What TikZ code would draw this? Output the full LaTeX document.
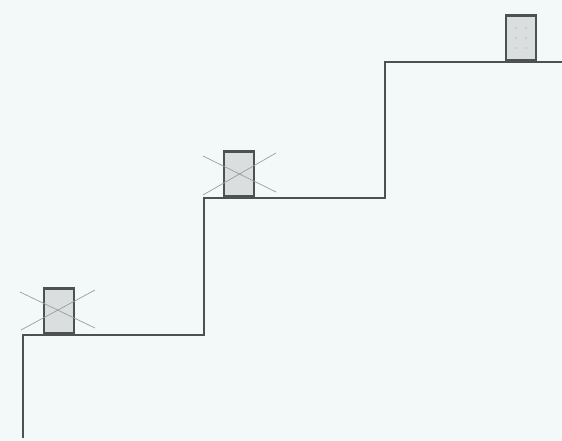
\documentclass[tikz,border=0pt]{standalone}
\usepackage{tikz}
\usetikzlibrary{positioning}
\definecolor{paper}{HTML}{F3F9F9}
\definecolor{stairgray}{HTML}{4E5152}
\definecolor{doorfill}{HTML}{DADEDF}
\definecolor{crossgray}{HTML}{9A9E9F}

\begin{document}
\begin{tikzpicture}[x=1pt,y=-1pt,
stair/.style={draw=stairgray,line width=2.1pt,line join=miter},
door/.style={draw=stairgray,line width=2.6pt,fill=doorfill,minimum width=30pt,minimum height=45pt,inner sep=0pt,anchor=south},
cross/.style={draw=crossgray,line width=0.7pt}]
\fill[paper] (0,0) rectangle (562,441);
\useasboundingbox (0,0) rectangle (562,441);
\coordinate (base) at (23,438);
\coordinate (s1) at (23,335);
\coordinate (s2) at (204,335);
\coordinate (s3) at (204,198);
\coordinate (s4) at (385,198);
\coordinate (s5) at (385,62);
\coordinate (top) at (563,62);
\node[door] (door1) at (59,335) {};
\node[door] (door2) at (239,198) {};
\node[door] (door3) at (521,62) {};
\draw[stair] (base)--(s1)--(s2)--(s3)--(s4)--(s5)--(top);
\draw[cross] (20,292)--(95,328);
\draw[cross] (95,290)--(21,330);
\draw[cross] (203,156)--(276,192);
\draw[cross] (276,153)--(203,195);
\foreach \dx in {-5,5}
  \foreach \dy in {-34,-24,-14}
    \fill[crossgray!50] ([shift={(\dx,\dy)}]door3.south) circle (1.3pt);
\end{tikzpicture}
\end{document}
